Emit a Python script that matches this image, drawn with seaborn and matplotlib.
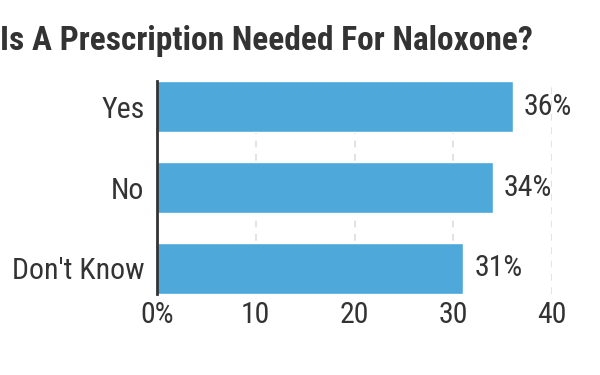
import matplotlib
matplotlib.use("Agg")
import matplotlib.pyplot as plt
import seaborn as sns
import pandas as pd

categories = ["Yes", "No", "Don't Know"]
values = [36, 34, 31]
value_labels = ["36%", "34%", "31%"]
xticks = [0, 10, 20, 30, 40]
xtick_labels = ["0%", "10", "20", "30", "40"]
title = "Is A Prescription Needed For Naloxone?"

sns.set_theme(style="white")
plt.rcParams["font.family"] = ["Roboto Condensed", "Roboto", "DejaVu Sans"]

df = pd.DataFrame({"cat": categories, "val": values})
fig = plt.figure(figsize=(6, 3.75), dpi=100)
ax = fig.add_axes([157/600, 1-294/375, (552-157)/600, (294-81)/375])
sns.barplot(data=df, x="val", y="cat", orient="h", color="#4EA8DA",
            saturation=1, width=0.63, ax=ax, zorder=2)
ax.set_xlim(0, 40)
ax.set_ylim(2.315, -0.315)
ax.set_xticks(xticks)
ax.set_xticklabels(xtick_labels)
ax.set_xlabel("")
ax.set_ylabel("")
for g in xticks[1:]:
    ax.axvline(g, color="#dddddd", linestyle=(0, (4, 4)), linewidth=1.2, zorder=1)
for s in ["top", "right", "bottom"]:
    ax.spines[s].set_visible(False)
ax.spines["left"].set_color("#333333")
ax.spines["left"].set_linewidth(2)
ax.spines["left"].set_zorder(3)
ax.tick_params(axis="both", length=0, labelsize=21.5, labelcolor="#333333")
ax.tick_params(axis="y", pad=9)
ax.tick_params(axis="x", pad=5)
for i, (v, lab) in enumerate(zip(values, value_labels)):
    ax.annotate(lab, xy=(v, i), xytext=(8, 0), textcoords="offset points",
                va="center", ha="left", fontsize=21.5, color="#333333")
fig.text(0.0, 1-50/375, title, fontsize=24, fontweight="bold", color="#333333",
         ha="left", va="baseline")
fig.savefig("out.png", dpi=100)
